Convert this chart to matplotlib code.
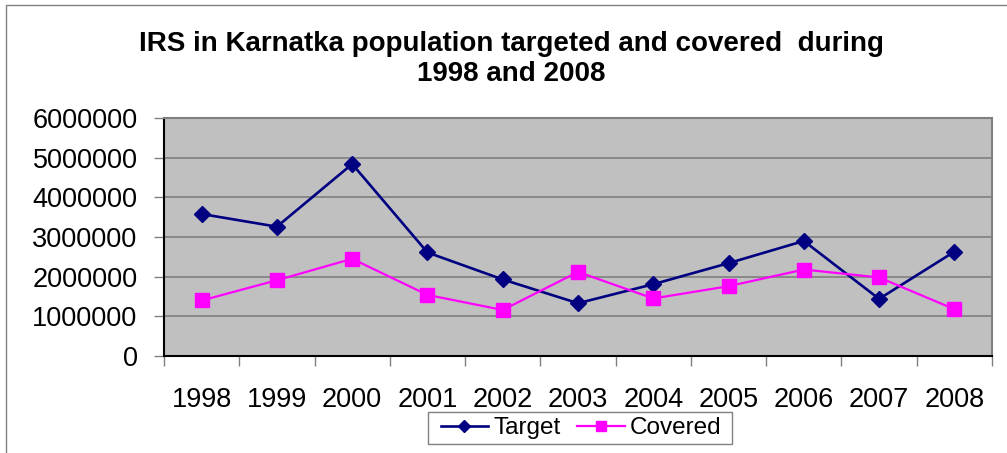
import matplotlib
matplotlib.use("Agg")
import matplotlib.pyplot as plt
from matplotlib.patches import Rectangle

years = ["1998", "1999", "2000", "2001", "2002", "2003", "2004", "2005", "2006", "2007", "2008"]
target = [3580000, 3260000, 4840000, 2610000, 1930000, 1330000, 1810000, 2340000, 2900000, 1440000, 2630000]
covered = [1400000, 1910000, 2450000, 1540000, 1160000, 2120000, 1450000, 1760000, 2180000, 1980000, 1180000]
yticks = [0, 1000000, 2000000, 3000000, 4000000, 5000000, 6000000]

plt.rcParams['font.family'] = ['Liberation Sans', 'DejaVu Sans']

W, H = 1007, 453
fig = plt.figure(figsize=(W / 100, H / 100), dpi=100)
# outer chart border
fig.patches.append(Rectangle((6 / W, -0.05), 1.1, 1 - 5 / H + 0.05, transform=fig.transFigure,
                             fill=False, edgecolor='#808080', linewidth=1.0))

ax = fig.add_axes([164 / W, 1 - 356 / H, (992 - 164) / W, (356 - 118) / H])
ax.set_facecolor('#C0C0C0')

x = list(range(len(years)))
ax.plot(x, target, color='#000080', marker='D', markersize=8, linewidth=1.9, label='Target')
ax.plot(x, covered, color='#FF00FF', marker='s', markersize=9.5, linewidth=1.6, label='Covered')

ax.set_xlim(-0.5, len(years) - 0.5)
ax.set_ylim(0, 6000000)
ax.set_yticks(yticks)
ax.set_yticklabels([str(v) for v in yticks], fontsize=19.5)
ax.yaxis.grid(True, color='#808080', linewidth=1.2)
ax.set_axisbelow(True)

ax.set_xticks(x)
ax.set_xticklabels(years, fontsize=19.5)
ax.tick_params(axis='x', length=0, pad=22)
ax.set_xticks([i - 0.5 for i in range(len(years) + 1)], minor=True)
ax.tick_params(axis='x', which='minor', length=7, color='#808080', width=1)
ax.tick_params(axis='y', length=7, width=1, color='#808080', pad=12)

ax.spines['left'].set_color('#000000')
ax.spines['bottom'].set_color('#000000')
ax.spines['left'].set_linewidth(1.5)
ax.spines['bottom'].set_linewidth(1.5)
ax.spines['top'].set_color('#808080')
ax.spines['right'].set_color('#808080')
ax.spines['top'].set_linewidth(1.5)
ax.spines['right'].set_linewidth(1.5)

fig.text(0.508, 1 - 44 / H, "IRS in Karnatka population targeted and covered  during",
         ha='center', va='center', fontsize=20, fontweight='bold')
fig.text(0.508, 1 - 74 / H, "1998 and 2008",
         ha='center', va='center', fontsize=20, fontweight='bold')

# legend frame
fig.patches.append(Rectangle((428 / W, 1 - 444 / H), (732 - 428) / W, 32 / H, transform=fig.transFigure,
                             fill=True, facecolor='white', edgecolor='#808080', linewidth=1.0, zorder=3))
leg = fig.legend(loc='center', bbox_to_anchor=(581 / W, 1 - 428 / H), ncol=2, fontsize=17.5,
                 frameon=False, handlelength=1.95, handletextpad=0.2, columnspacing=0.7,
                 borderpad=0.1, markerscale=0.75)
leg.set_zorder(4)

fig.savefig("out.png", dpi=100)
